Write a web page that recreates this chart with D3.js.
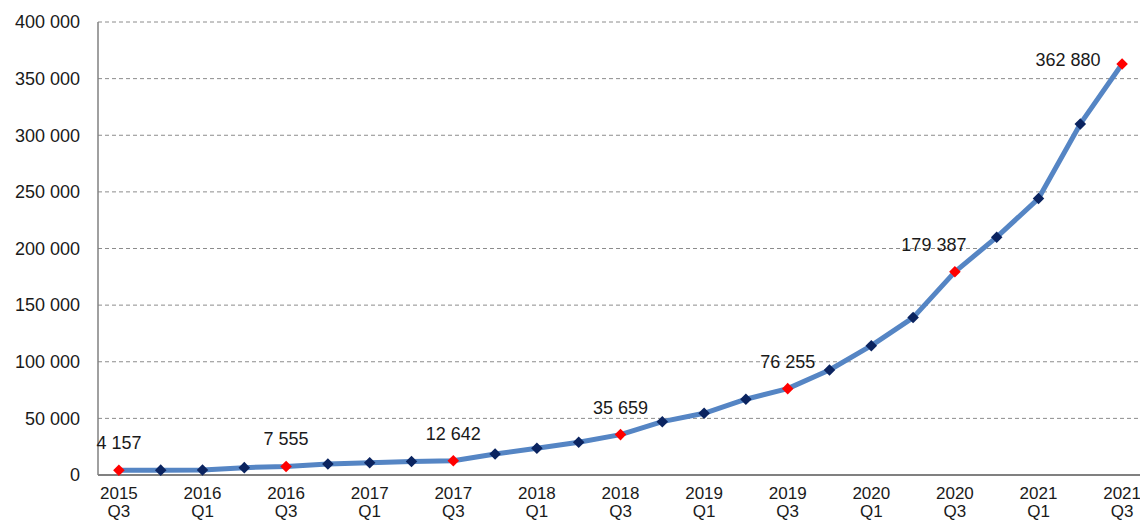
<!DOCTYPE html>
<html>
<head>
<meta charset="utf-8">
<script src="https://cdn.jsdelivr.net/npm/d3@7"></script>
<style>
  body { margin: 0; background: #fff; }
  text { font-family: "Liberation Sans", Arial, sans-serif; fill: #1a1a1a; }
</style>
</head>
<body>
<div id="chart"></div>
<script>
const quarters = [
  "2015 Q3", "2015 Q4", "2016 Q1", "2016 Q2", "2016 Q3", "2016 Q4",
  "2017 Q1", "2017 Q2", "2017 Q3", "2017 Q4", "2018 Q1", "2018 Q2",
  "2018 Q3", "2018 Q4", "2019 Q1", "2019 Q2", "2019 Q3", "2019 Q4",
  "2020 Q1", "2020 Q2", "2020 Q3", "2020 Q4", "2021 Q1", "2021 Q2", "2021 Q3"
];
const values = [
  4157, 4300, 4500, 6500, 7555, 9700,
  10800, 12000, 12642, 18500, 23600, 28900,
  35659, 47100, 54500, 66900, 76255, 92700,
  114200, 139000, 179387, 210000, 244100, 310000, 362880
];
// quarters that get a red marker and a value label
const labelled = ["2015 Q3", "2016 Q3", "2017 Q3", "2018 Q3", "2019 Q3", "2020 Q3", "2021 Q3"];
const yTicks = [0, 50000, 100000, 150000, 200000, 250000, 300000, 350000, 400000];

const width = 1140,
  height = 522;
const margin = { top: 22, right: 0, bottom: 47, left: 98 };

const svg = d3
  .select("#chart")
  .append("svg")
  .attr("width", width)
  .attr("height", height);

const x = d3
  .scalePoint()
  .domain(quarters)
  .range([margin.left, width + 3])
  .padding(0.5);

const y = d3
  .scaleLinear()
  .domain([0, 400000])
  .range([height - margin.bottom, margin.top]);

const fmt = (v) => d3.format(",")(v).replace(/,/g, " ");

// gridlines
svg
  .append("g")
  .selectAll("line")
  .data(yTicks.slice(1))
  .join("line")
  .attr("x1", margin.left)
  .attr("x2", width)
  .attr("y1", (d) => y(d))
  .attr("y2", (d) => y(d))
  .attr("stroke", "#8c8c8c")
  .attr("stroke-width", 1)
  .attr("stroke-dasharray", "4,3");

// y tick labels
svg
  .append("g")
  .selectAll("text")
  .data(yTicks)
  .join("text")
  .attr("x", 80)
  .attr("y", (d) => y(d))
  .attr("dy", "0.35em")
  .attr("text-anchor", "end")
  .style("font-size", "18px")
  .text(fmt);

// axes lines
svg
  .append("line")
  .attr("x1", margin.left)
  .attr("x2", margin.left)
  .attr("y1", y(400000))
  .attr("y2", y(0))
  .attr("stroke", "#808080")
  .attr("stroke-width", 1.5);
svg
  .append("line")
  .attr("x1", margin.left)
  .attr("x2", width)
  .attr("y1", y(0))
  .attr("y2", y(0))
  .attr("stroke", "#808080")
  .attr("stroke-width", 2);

// x labels: every second quarter
const xl = svg
  .append("g")
  .selectAll("text")
  .data(quarters.filter((d, i) => i % 2 === 0))
  .join("text")
  .attr("text-anchor", "middle")
  .style("font-size", "17px");
xl.append("tspan")
  .attr("x", (d) => x(d))
  .attr("y", 499)
  .text((d) => d.split(" ")[0]);
xl.append("tspan")
  .attr("x", (d) => x(d))
  .attr("y", 517)
  .text((d) => d.split(" ")[1]);

const data = quarters.map((q, i) => ({ q: q, v: values[i] }));

// line
svg
  .append("path")
  .datum(data)
  .attr("fill", "none")
  .attr("stroke", "#5585c4")
  .attr("stroke-width", 5)
  .attr("stroke-linejoin", "round")
  .attr("d", d3.line().x((d) => x(d.q)).y((d) => y(d.v)));

// markers
svg
  .append("g")
  .selectAll("path")
  .data(data)
  .join("path")
  .attr("transform", (d) => `translate(${x(d.q)},${y(d.v)})`)
  .attr("d", d3.symbol(d3.symbolDiamond2, 85))
  .attr("fill", (d) => (labelled.includes(d.q) ? "#ff0000" : "#0b2460"));

// value labels
const labelShift = { "2020 Q3": [-21, -21], "2021 Q3": [-54, 2] };
svg
  .append("g")
  .selectAll("text")
  .data(data.filter((d) => labelled.includes(d.q)))
  .join("text")
  .attr("x", (d) => x(d.q) + (labelShift[d.q] ? labelShift[d.q][0] : 0))
  .attr("y", (d) => y(d.v) + (labelShift[d.q] ? labelShift[d.q][1] : -21))
  .attr("text-anchor", "middle")
  .style("font-size", "18px")
  .text((d) => fmt(d.v));
</script>
</body>
</html>
